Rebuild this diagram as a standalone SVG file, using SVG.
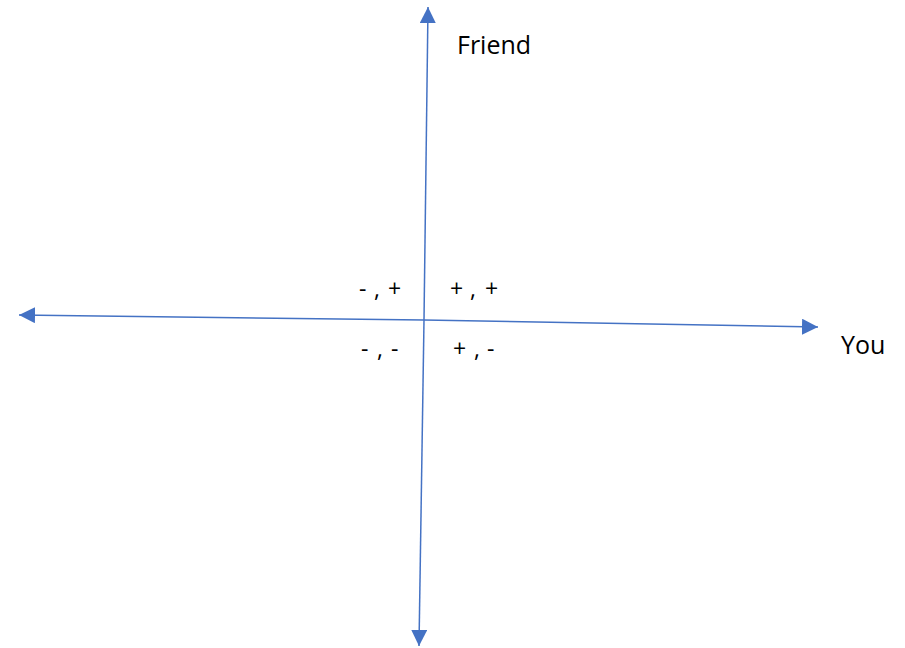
<svg xmlns="http://www.w3.org/2000/svg" width="905" height="648" viewBox="0 0 905 648">
<style>
.ax{stroke:#4472C4;stroke-width:1.5;fill:none}
.lbl{font-family:"Open Sans","Liberation Sans",sans-serif;font-size:25px;fill:#000}
.q{font-family:"Open Sans","Liberation Sans",sans-serif;font-size:23px;fill:#000}
</style>
<defs>
<marker id="arr" viewBox="0 0 10 10" refX="10" refY="5" markerWidth="16" markerHeight="16" markerUnits="userSpaceOnUse" orient="auto">
<path d="M0,0 L10,5 L0,10 z" fill="#4472C4"/>
</marker>
</defs>
<rect width="905" height="648" fill="#fff"/>
<g id="connectors">
<line class="ax" x1="424" y1="320" x2="428" y2="7" marker-end="url(#arr)"/>
<line class="ax" x1="424" y1="320" x2="419" y2="646" marker-end="url(#arr)"/>
<line class="ax" x1="424" y1="320" x2="19" y2="315" marker-end="url(#arr)"/>
<line class="ax" x1="424" y1="320" x2="818" y2="327" marker-end="url(#arr)"/>
</g>
<g id="friend"><text class="lbl" x="457" y="54">Friend</text></g>
<g id="you"><text class="lbl" x="841" y="354">You</text></g>
<g id="q2"><text class="q" x="359 374 388" y="297">-,+</text></g>
<g id="q1"><text class="q" x="450 470 485" y="297">+,+</text></g>
<g id="q3"><text class="q" x="361 377 391" y="357">-,-</text></g>
<g id="q4"><text class="q" x="453 474 487" y="357">+,-</text></g>
</svg>
